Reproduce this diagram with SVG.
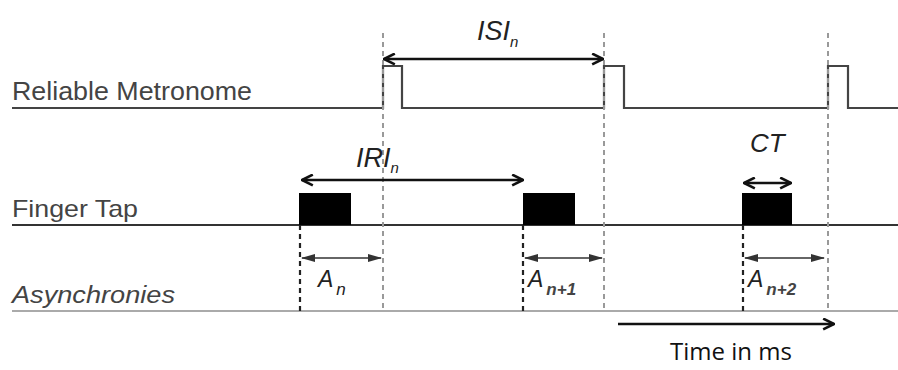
<svg xmlns="http://www.w3.org/2000/svg" width="898" height="370" viewBox="0 0 898 370">
<defs>
<marker id="chev" viewBox="0 0 12 12" refX="11" refY="6" markerWidth="13" markerHeight="13" markerUnits="userSpaceOnUse" orient="auto-start-reverse">
<path d="M1,1 L11,6 L1,11" fill="none" stroke="#111" stroke-width="2.4"/>
</marker>
<marker id="tri" viewBox="0 0 14 8" refX="13" refY="4" markerWidth="14" markerHeight="8" markerUnits="userSpaceOnUse" orient="auto-start-reverse">
<path d="M0,0 L14,4 L0,8 Z" fill="#333"/>
</marker>
</defs>
<style>
.lbl{font-family:"Liberation Sans",Arial,sans-serif;fill:#444}
.it{font-family:"Liberation Sans",Arial,sans-serif;font-style:italic;fill:#222}
.sig{fill:none;stroke:#444;stroke-width:2.2}
.gdash{stroke:#999;stroke-width:2;stroke-dasharray:5 4;fill:none}
.kdash{stroke:#222;stroke-width:2.2;stroke-dasharray:5 4;fill:none}
.arr{stroke:#111;stroke-width:2.5;fill:none}
.sarr{stroke:#333;stroke-width:1.6;fill:none}
.tap{fill:#000}
</style>
<rect width="898" height="370" fill="#fff"/>
<g id="metronome">
<text class="lbl" x="12" y="100" font-size="25" textLength="240" lengthAdjust="spacingAndGlyphs">Reliable Metronome</text>
<path class="sig" d="M12,108 H383 V66 H402 V108 H604 V66 H624 V108 H828 V66 H848 V108 H898"/>
</g>
<g id="finger-tap">
<text class="lbl" x="12" y="217" font-size="24" textLength="126" lengthAdjust="spacingAndGlyphs">Finger Tap</text>
<line x1="12" y1="225" x2="898" y2="225" stroke="#333" stroke-width="2.2"/>
<rect class="tap" x="299" y="193" width="52" height="32"/>
<rect class="tap" x="523" y="193" width="52" height="32"/>
<rect class="tap" x="742" y="193" width="50" height="32"/>
</g>
<g id="asynchronies">
<text class="it" x="12" y="303" font-size="23" textLength="163" lengthAdjust="spacingAndGlyphs" style="fill:#444">Asynchronies</text>
<line x1="12" y1="311" x2="898" y2="311" stroke="#aaa" stroke-width="2"/>
</g>
<g id="guides">
<line class="gdash" x1="383" y1="33" x2="383" y2="311"/>
<line class="gdash" x1="604" y1="33" x2="604" y2="311"/>
<line class="gdash" x1="828" y1="33" x2="828" y2="311"/>
<line class="kdash" x1="300" y1="225" x2="300" y2="312"/>
<line class="kdash" x1="523" y1="225" x2="523" y2="312"/>
<line class="kdash" x1="743" y1="225" x2="743" y2="312"/>
</g>
<g id="connectors">
<line class="arr" x1="384" y1="59" x2="603" y2="59" marker-start="url(#chev)" marker-end="url(#chev)"/>
<line class="arr" x1="302" y1="180" x2="523" y2="180" marker-start="url(#chev)" marker-end="url(#chev)"/>
<line class="arr" x1="744" y1="183" x2="791" y2="183" marker-start="url(#chev)" marker-end="url(#chev)"/>
<line class="sarr" x1="302" y1="258" x2="381" y2="258" marker-start="url(#tri)" marker-end="url(#tri)"/>
<line class="sarr" x1="525" y1="258" x2="602" y2="258" marker-start="url(#tri)" marker-end="url(#tri)"/>
<line class="sarr" x1="745" y1="258" x2="824" y2="258" marker-start="url(#tri)" marker-end="url(#tri)"/>
<line class="arr" x1="618" y1="324" x2="834" y2="324" marker-end="url(#chev)"/>
</g>
<g id="labels">
<text class="it" x="477" y="40" font-size="27">ISI<tspan font-size="15" dy="7">n</tspan></text>
<text class="it" x="356" y="167" font-size="27">IRI<tspan font-size="15" dy="6">n</tspan></text>
<text class="it" x="750" y="152" font-size="26">CT</text>
<text class="it" x="318" y="287" font-size="23">A<tspan font-size="17" dx="3" dy="8">n</tspan></text>
<text class="it" x="528" y="287" font-size="23">A<tspan font-size="17" dx="3" dy="8" font-weight="bold" style="fill:#444">n+1</tspan></text>
<text class="it" x="748" y="287" font-size="23">A<tspan font-size="17" dx="3" dy="8" font-weight="bold" style="fill:#444">n+2</tspan></text>
<text x="731" y="360" font-size="24" text-anchor="middle" font-family="'Open Sans',sans-serif" fill="#111">Time in ms</text>
</g>
</svg>
